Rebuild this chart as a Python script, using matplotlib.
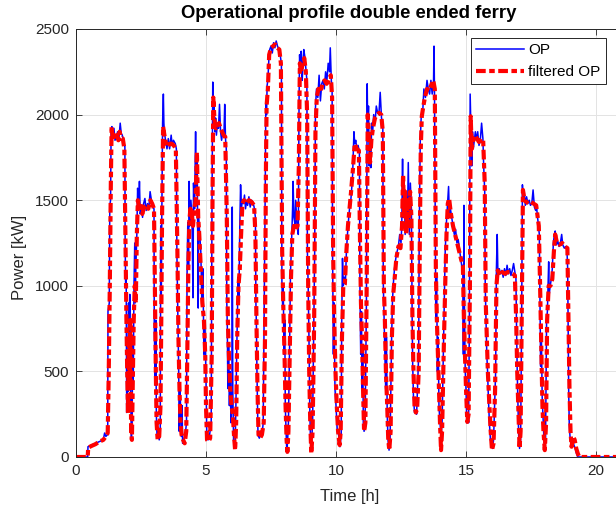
import matplotlib
matplotlib.use("Agg")
import matplotlib.pyplot as plt

plt.rcParams['font.family'] = ['Liberation Sans', 'DejaVu Sans']
plt.rcParams['lines.scale_dashes'] = False

# operational profile (time [h], power [kW])
op_t = [0, 0.45, 0.46, 0.6, 0.75, 0.9, 1.05, 1.1, 1.15, 1.2, 1.22, 1.23, 1.28, 1.30, 1.33, 1.35, 1.38, 1.42, 1.46, 1.5,
        1.55, 1.6, 1.65, 1.7, 1.74, 1.78, 1.82, 1.86, 1.88, 1.89, 1.91, 1.93, 1.95, 1.97, 1.99, 2.02, 2.04, 2.07, 2.1,
        2.13, 2.16, 2.18, 2.2, 2.23, 2.26, 2.28, 2.3, 2.34, 2.37, 2.41, 2.44, 2.47, 2.52, 2.56, 2.6, 2.65, 2.7, 2.75,
        2.8, 2.85, 2.9, 2.95, 3.0, 3.01, 3.03, 3.05, 3.07, 3.09, 3.12, 3.16, 3.2, 3.24, 3.26, 3.28, 3.3, 3.33, 3.36,
        3.38, 3.4, 3.45, 3.5, 3.55, 3.6, 3.66, 3.7, 3.75, 3.82, 3.86, 3.88, 3.9, 3.93, 3.95, 3.97, 4.0, 4.02, 4.05,
        4.08, 4.1, 4.15, 4.2, 4.25, 4.27, 4.3, 4.33, 4.35, 4.38, 4.42, 4.46, 4.5, 4.52, 4.56, 4.6, 4.62, 4.66, 4.7,
        4.72, 4.76, 4.8, 4.84, 4.88, 4.92, 4.96, 5.0, 5.03, 5.08, 5.13, 5.2, 5.23, 5.26, 5.28, 5.31, 5.34, 5.37, 5.4,
        5.44, 5.48, 5.52, 5.56, 5.6, 5.64, 5.69, 5.72, 5.75, 5.78, 5.8, 5.82, 5.84, 5.87, 5.9, 5.93, 5.96, 6.0, 6.01,
        6.03, 6.06, 6.09, 6.12, 6.15, 6.18, 6.21, 6.24, 6.26, 6.28, 6.3, 6.33, 6.36, 6.4, 6.44, 6.48, 6.52, 6.56,
        6.6, 6.65, 6.7, 6.75, 6.8, 6.85, 6.9, 6.92, 6.94, 6.96, 6.98, 7.0, 7.05, 7.1, 7.15, 7.2, 7.28, 7.3, 7.33,
        7.35, 7.38, 7.42, 7.45, 7.5, 7.55, 7.6, 7.65, 7.7, 7.75, 7.8, 7.85, 7.9, 7.92, 7.95, 7.97, 8.0, 8.03, 8.05,
        8.08, 8.11, 8.14, 8.17, 8.22, 8.25, 8.28, 8.33, 8.35, 8.38, 8.42, 8.45, 8.5, 8.55, 8.56, 8.58, 8.6, 8.63,
        8.66, 8.7, 8.73, 8.76, 8.8, 8.85, 8.88, 8.9, 8.93, 8.96, 8.99, 9.02, 9.05, 9.1, 9.18, 9.21, 9.25, 9.3, 9.35,
        9.4, 9.45, 9.5, 9.55, 9.6, 9.65, 9.7, 9.75, 9.78, 9.82, 9.85, 9.87, 9.9, 9.93, 9.96, 10.0, 10.05, 10.1,
        10.15, 10.2, 10.22, 10.25, 10.28, 10.32, 10.36, 10.4, 10.44, 10.48, 10.52, 10.56, 10.6, 10.64, 10.69, 10.72,
        10.76, 10.8, 10.85, 10.9, 10.92, 10.95, 10.98, 11.0, 11.03, 11.05, 11.08, 11.12, 11.17, 11.2, 11.22, 11.25,
        11.28, 11.31, 11.34, 11.37, 11.41, 11.45, 11.5, 11.55, 11.6, 11.65, 11.7, 11.75, 11.8, 11.82, 11.85, 11.88,
        11.91, 11.94, 11.97, 12.0, 12.04, 12.08, 12.14, 12.17, 12.2, 12.25, 12.3, 12.35, 12.4, 12.45, 12.5, 12.53,
        12.56, 12.58, 12.62, 12.66, 12.7, 12.75, 12.78, 12.82, 12.86, 12.9, 12.93, 12.95, 12.98, 13.02, 13.06, 13.1,
        13.18, 13.2, 13.24, 13.28, 13.33, 13.38, 13.44, 13.5, 13.55, 13.6, 13.65, 13.7, 13.75, 13.77, 13.79, 13.82,
        13.84, 13.87, 13.9, 13.93, 13.96, 14.0, 14.04, 14.08, 14.14, 14.17, 14.2, 14.24, 14.28, 14.33, 14.36, 14.4,
        14.45, 14.5, 14.55, 14.6, 14.65, 14.7, 14.76, 14.8, 14.85, 14.88, 14.9, 14.92, 14.94, 14.97, 15.0, 15.03,
        15.07, 15.1, 15.13, 15.16, 15.19, 15.22, 15.25, 15.28, 15.32, 15.36, 15.4, 15.45, 15.5, 15.55, 15.6, 15.65,
        15.68, 15.72, 15.74, 15.77, 15.8, 15.83, 15.86, 15.9, 15.94, 15.98, 16.02, 16.06, 16.14, 16.17, 16.2, 16.23,
        16.28, 16.33, 16.38, 16.43, 16.48, 16.53, 16.58, 16.63, 16.68, 16.73, 16.78, 16.83, 16.88, 16.92, 16.94,
        16.97, 17.0, 17.03, 17.06, 17.1, 17.14, 17.17, 17.2, 17.24, 17.28, 17.33, 17.38, 17.43, 17.48, 17.53, 17.58,
        17.63, 17.68, 17.72, 17.82, 17.84, 17.87, 17.9, 17.93, 17.97, 18.0, 18.03, 18.06, 18.1, 18.13, 18.18, 18.2,
        18.24, 18.28, 18.32, 18.36, 18.4, 18.43, 18.48, 18.53, 18.58, 18.63, 18.68, 18.72, 18.78, 18.84, 18.88,
        18.91, 18.93, 18.95, 18.97, 19.0, 19.05, 19.1, 19.15, 19.2, 19.25, 19.3, 21.5]
op_p = [0, 0, 60, 70, 80, 90, 100, 140, 120, 130, 130, 850, 900, 1470, 1500, 1900, 1930, 1880, 1920, 1850,
        1870, 1900, 1860, 1950, 1890, 1880, 1850, 1820, 1820, 1250, 1000, 1050, 260, 600, 380, 900, 700, 950, 400,
        100, 200, 700, 400, 1000, 1250, 900, 1100, 1300, 1570, 1450, 1610, 1420, 1460, 1400, 1480, 1510, 1440, 1480,
        1450, 1550, 1500, 1460, 1450, 770, 600, 420, 800, 250, 110, 150, 100, 130, 1350, 900, 1400, 1950, 2120,
        1950, 1900, 1840, 1800, 1860, 1800, 1880, 1820, 1850, 1830, 1800, 1200, 1000, 700, 500, 150, 400, 300, 120,
        300, 80, 100, 130, 200, 1050, 1370, 1100, 1610, 1350, 1500, 1400, 930, 1600, 1450, 1900, 1550, 1750, 870,
        1400, 1300, 1200, 900, 1100, 600, 780, 450, 130, 100, 120, 200, 1450, 2190, 2000, 2050, 1900, 1980, 1880,
        1950, 1920, 2060, 1900, 1850, 1900, 1880, 2060, 1860, 1800, 900, 760, 400, 650, 300, 500, 200, 350, 1460,
        400, 100, 60, 50, 300, 600, 850, 1050, 900, 1100, 1350, 1590, 1450, 1500, 1480, 1530, 1450, 1500,
        1470, 1520, 1460, 1500, 1490, 1460, 1400, 900, 760, 500, 300, 130, 110, 130, 120, 200, 1600, 2060, 2000,
        2170, 2200, 2330, 2380, 2400, 2360, 2420, 2390, 2430, 2400, 2380, 2350, 2300, 1020, 870, 1000, 600, 800, 300,
        150, 25, 100, 200, 700, 1080, 1200, 1450, 1610, 1400, 1360, 1500, 1350, 1300, 1600, 2100, 2350, 2250,
        2370, 2200, 2300, 2380, 2340, 2250, 2200, 1200, 1000, 700, 300, 80, 50, 200, 1200, 2040, 2150, 2100, 2230,
        2080, 2180, 2200, 2150, 2250, 2200, 2300, 2250, 2390, 2200, 2150, 1160, 600, 900, 400, 300, 150, 130,
        60, 130, 800, 1160, 1000, 1050, 1010, 1200, 1300, 1380, 1450, 1480, 1560, 1650, 1900, 1830,
        1850, 1800, 1820, 1780, 1000, 600, 850, 400, 650, 200, 150, 200, 900, 2180, 1900, 2050,
        1700, 1800, 1690, 1950, 1900, 2000, 1950, 2050, 2010, 2000, 2130, 1980, 1950, 1010, 800, 600,
        400, 700, 250, 100, 40, 100, 700, 900, 1000, 1100, 1160, 1200, 1230, 1300, 1250, 1350,
        1740, 1400, 1600, 1300, 1500, 1400, 1720, 1300, 1600, 1450, 800, 540, 350, 260, 270, 250,
        600, 1300, 1840, 2000, 2000, 2150, 2100, 2200, 2150, 2120, 2200, 2120, 2180, 2400, 2100, 1310,
        800, 1050, 500, 700, 300, 200, 120, 200, 700, 950, 1200, 1350, 1450, 1580, 1400, 1450,
        1400, 1350, 1300, 1330, 1250, 1270, 1200, 1150, 1100, 1120, 600, 1470, 900, 500, 400, 200,
        250, 200, 800, 2120, 1900, 1700, 1900, 1800, 1850, 1900, 1850, 1900, 1820, 1850, 1950, 1860,
        1700, 1550, 1000, 800, 600, 500, 350, 200, 100, 80, 50, 100, 500, 1100, 1300, 1050,
        1100, 1070, 1090, 1050, 1100, 1060, 1120, 1070, 1100, 1060, 1090, 1130, 1080, 1050, 800,
        500, 300, 100, 50, 100, 800, 1590, 1500, 1550, 1470, 1520, 1480, 1500, 1470, 1480, 1560,
        1460, 1440, 1450, 1300, 1000, 530, 700, 350, 200, 100, 40, 100, 800, 850, 1140, 950,
        1000, 1040, 1100, 1250, 1300, 1320, 1240, 1260, 1230, 1250, 1300, 1240, 1220, 1230, 1220,
        1100, 700, 380, 200, 120, 80, 100, 70, 50, 20, 0, 0]

filt_t = [0, 0.45, 0.47, 0.6, 0.75, 0.9, 1.05, 1.15, 1.22, 1.26, 1.3, 1.34, 1.37, 1.42, 1.47, 1.52, 1.58, 1.63, 1.68,
          1.73, 1.8, 1.86, 1.9, 1.94, 1.97, 2.0, 2.03, 2.06, 2.09, 2.12, 2.15, 2.18, 2.22, 2.26, 2.3, 2.34, 2.38,
          2.42, 2.48, 2.55, 2.62, 2.7, 2.78, 2.86, 2.93, 3.0, 3.04, 3.07, 3.1, 3.14, 3.2, 3.25, 3.28, 3.31, 3.35,
          3.4, 3.46, 3.52, 3.6, 3.68, 3.76, 3.84, 3.9, 3.94, 3.98, 4.02, 4.06, 4.12, 4.18, 4.24, 4.28, 4.32, 4.36,
          4.4, 4.45, 4.5, 4.55, 4.6, 4.65, 4.7, 4.74, 4.8, 4.86, 4.92, 4.97, 5.0, 5.04, 5.1, 5.16, 5.22, 5.25, 5.28,
          5.33, 5.38, 5.44, 5.5, 5.56, 5.62, 5.68, 5.74, 5.8, 5.84, 5.88, 5.93, 5.98, 6.03, 6.08, 6.12, 6.16, 6.2,
          6.25, 6.3, 6.35, 6.4, 6.46, 6.55, 6.65, 6.75, 6.85, 6.9, 6.94, 6.98, 7.02, 7.08, 7.15, 7.22, 7.27, 7.3,
          7.33, 7.38, 7.43, 7.5, 7.58, 7.66, 7.74, 7.82, 7.88, 7.93, 7.97, 8.02, 8.06, 8.1, 8.13, 8.17, 8.22, 8.27,
          8.32, 8.38, 8.45, 8.52, 8.57, 8.61, 8.66, 8.72, 8.78, 8.84, 8.89, 8.93, 8.97, 9.01, 9.05, 9.1, 9.16, 9.21,
          9.26, 9.32, 9.4, 9.48, 9.56, 9.64, 9.72, 9.8, 9.85, 9.89, 9.93, 9.98, 10.03, 10.08, 10.14, 10.18, 10.23,
          10.28, 10.34, 10.4, 10.46, 10.52, 10.58, 10.65, 10.72, 10.8, 10.88, 10.92, 10.96, 11.0, 11.04, 11.08,
          11.13, 11.18, 11.22, 11.26, 11.31, 11.36, 11.42, 11.5, 11.58, 11.66, 11.74, 11.8, 11.84, 11.88, 11.92,
          11.97, 12.01, 12.05, 12.1, 12.15, 12.2, 12.26, 12.32, 12.4, 12.48, 12.54, 12.58, 12.62, 12.66, 12.7,
          12.75, 12.8, 12.85, 12.9, 12.94, 12.98, 13.02, 13.07, 13.12, 13.18, 13.22, 13.26, 13.3, 13.36, 13.42,
          13.5, 13.58, 13.66, 13.74, 13.8, 13.84, 13.88, 13.92, 13.96, 14.0, 14.04, 14.08, 14.14, 14.2, 14.25,
          14.3, 14.35, 14.42, 14.5, 14.58, 14.66, 14.74, 14.82, 14.88, 14.92, 14.96, 15.0, 15.05, 15.1, 15.15,
          15.18, 15.22, 15.28, 15.35, 15.42, 15.5, 15.58, 15.66, 15.72, 15.76, 15.8, 15.84, 15.9, 15.95, 16.0,
          16.06, 16.12, 16.17, 16.22, 16.3, 16.4, 16.5, 16.6, 16.7, 16.8, 16.88, 16.93, 16.97, 17.02, 17.06, 17.1,
          17.15, 17.19, 17.25, 17.32, 17.4, 17.5, 17.6, 17.7, 17.8, 17.85, 17.9, 17.94, 17.98, 18.03, 18.08, 18.12,
          18.18, 18.25, 18.32, 18.38, 18.43, 18.5, 18.6, 18.7, 18.8, 18.9, 18.94, 18.98, 19.02, 19.06, 19.12,
          19.18, 19.24, 19.3, 19.36, 21.5]
filt_p = [0, 0, 55, 65, 75, 90, 100, 120, 140, 500, 1000, 1600, 1930, 1850, 1880, 1860, 1880, 1850, 1900,
          1860, 1860, 1800, 1300, 800, 500, 250, 700, 400, 800, 150, 100, 400, 800, 1000, 900, 1300, 1500,
          1460, 1480, 1420, 1460, 1470, 1450, 1500, 1480, 1450, 900, 500, 200, 100, 120, 300, 800, 1400, 1930,
          1880, 1830, 1810, 1830, 1830, 1820, 1800, 1200, 700, 400, 200, 130, 100, 80, 150, 600, 1100, 1380,
          1450, 1420, 1350, 1450, 1500, 1780, 1400, 1300, 1100, 900, 800, 600, 300, 100, 90, 110, 600, 1500, 2100,
          1960, 1920, 1930, 1950, 1920, 1900, 1880, 1870, 1400, 800, 600, 400, 300, 250, 120, 40, 200, 700,
          1000, 1100, 1300, 1480, 1500, 1480, 1500, 1490, 1470, 1300, 800, 400, 130, 110, 130, 200, 700, 1600,
          2050, 2150, 2350, 2390, 2400, 2410, 2390, 2380, 2300, 1200, 900, 600, 300, 100, 30, 150, 600, 1050,
          1300, 1350, 1330, 1350, 1700, 2300, 2250, 2300, 2330, 2250, 2000, 1000, 500, 200, 20, 150, 800, 1900,
          2100, 2150, 2130, 2180, 2200, 2180, 2200, 2230, 2100, 1200, 800, 500, 300, 150, 70, 150, 700,
          1000, 1010, 1200, 1350, 1450, 1550, 1680, 1830, 1800, 1790, 1300, 900, 700, 400, 150,
          200, 1000, 2000, 1900, 1720, 1850, 1920, 1980, 2000, 2010, 2000, 1900, 1000, 800, 500,
          300, 100, 40, 150, 700, 950, 1050, 1160, 1230, 1220, 1350, 1650, 1400, 1550, 1300,
          1500, 1350, 1550, 1400, 800, 500, 300, 260, 280, 500, 1200, 1800, 1990, 2050, 2100,
          2150, 2140, 2170, 2200, 2150, 1100, 800, 600, 400, 200, 40, 150, 600, 1000, 1300,
          1480, 1510, 1420, 1350, 1300, 1250, 1200, 1150, 1120, 800, 600, 400, 205, 250, 1000,
          1990, 1800, 1850, 1880, 1860, 1840, 1860, 1850, 1600, 900, 700, 500, 300, 150, 40,
          80, 400, 1000, 1090, 1060, 1080, 1070, 1080, 1080, 1070, 1060, 800, 500, 250, 50, 150,
          900, 1560, 1500, 1490, 1480, 1490, 1480, 1470, 1350, 1000, 600, 300, 150, 40, 200, 800,
          1000, 1000, 1040, 1200, 1300, 1250, 1240, 1250, 1230, 1220, 800, 400, 150, 60, 120,
          100, 50, 20, 0, 0]

W, H = 616, 507
fig = plt.figure(figsize=(W / 100, H / 100), dpi=100)

# axes runs past the right edge of the picture, like the cropped original
x_max = 21.5
px_per_h = 26.0
ax = fig.add_axes([76 / W, 50 / H, x_max * px_per_h / W, 428 / H])

ax.plot(op_t, op_p, color='#0000ff', lw=1.1, label='OP')
ax.plot(filt_t, filt_p, color='#ff0000', lw=3.0, dashes=(7, 2.5, 4, 2.5),
        dash_capstyle='butt', label='filtered OP')

ax.set_xlim(0, x_max)
ax.set_ylim(0, 2500)
ax.set_xticks([0, 5, 10, 15, 20])
ax.set_yticks([0, 500, 1000, 1500, 2000, 2500])
ax.grid(True, color='#e3e3e3', lw=0.7)
ax.set_axisbelow(True)

axis_col = '#262626'
for s in ax.spines.values():
    s.set_color(axis_col)
    s.set_linewidth(0.7)
ax.tick_params(direction='in', top=True, right=False, length=4, width=0.6,
               colors=axis_col, labelsize=11, pad=5)

fig.text(349 / W, 1 - 14 / H, 'Operational profile double ended ferry',
         ha='center', va='center', fontsize=13.3, fontweight='bold', color='black')
fig.text(350 / W, 1 - 497 / H, 'Time [h]', ha='center', va='center', fontsize=12, color=axis_col)
fig.text(20 / W, 1 - 257 / H, 'Power [kW]', ha='center', va='center', rotation=90,
         fontsize=12, color=axis_col)

leg = ax.legend(loc='upper right', bbox_to_anchor=((606 - 76) / (x_max * px_per_h), (457 - 38) / 428),
                fontsize=11, fancybox=False, framealpha=1, edgecolor=axis_col,
                handlelength=3.1, borderpad=0.35, labelspacing=0.5, handletextpad=0.3, borderaxespad=0)
leg.get_frame().set_linewidth(0.7)

fig.savefig('out.png', dpi=100)
